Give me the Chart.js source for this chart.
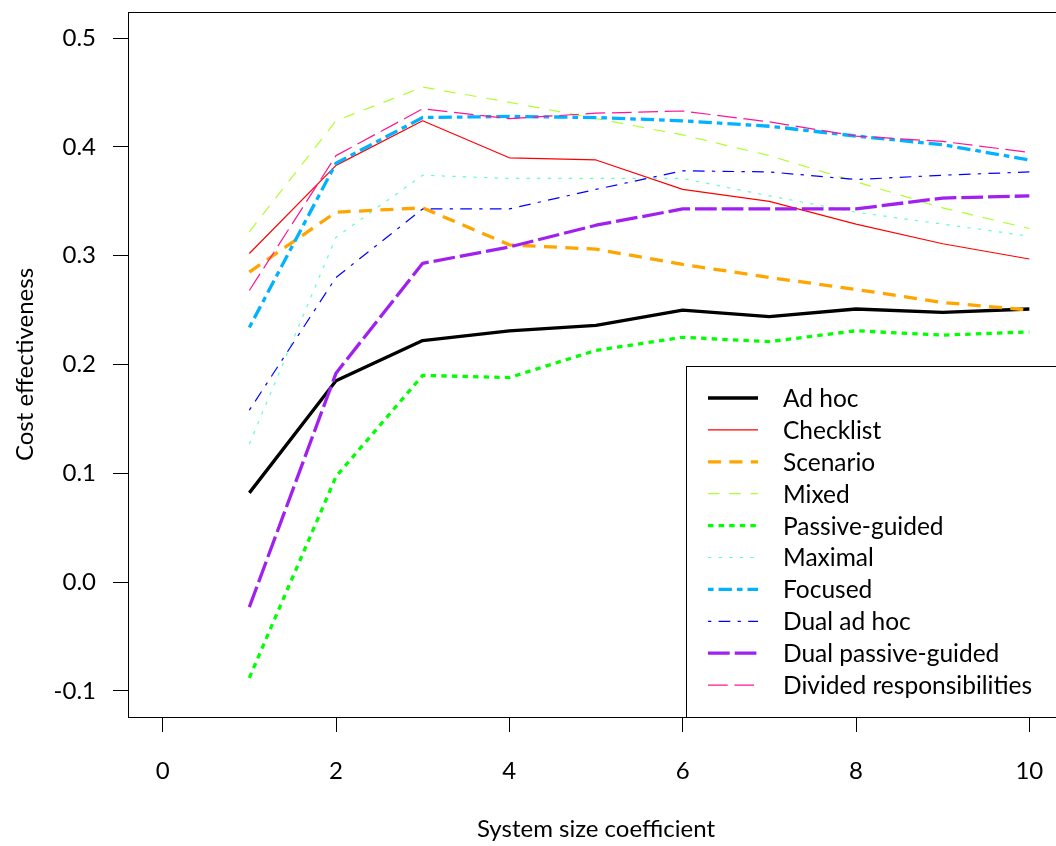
<!DOCTYPE html>
<html>
<head>
<meta charset="utf-8">
<script src="https://cdn.jsdelivr.net/npm/chart.js@4/dist/chart.umd.min.js"></script>
<style>
  html, body { margin: 0; padding: 0; background: #fff; overflow: hidden; }
  #wrap { width: 1056px; height: 846px; overflow: hidden; }
</style>
</head>
<body>
<div id="wrap"><canvas id="chart" width="1080" height="846"></canvas></div>
<script>
// x values (system size coefficient)
const sizes = [1, 2, 3, 4, 5, 6, 7, 8, 9, 10];

// cost effectiveness per strategy
const adHoc        = [0.082, 0.185, 0.222, 0.231, 0.236, 0.250, 0.244, 0.251, 0.248, 0.251];
const checklist    = [0.302, 0.383, 0.424, 0.390, 0.388, 0.361, 0.350, 0.329, 0.311, 0.297];
const scenario     = [0.285, 0.340, 0.344, 0.310, 0.306, 0.292, 0.280, 0.269, 0.257, 0.250];
const mixed        = [0.322, 0.424, 0.455, 0.441, 0.426, 0.411, 0.392, 0.368, 0.344, 0.325];
const passive      = [-0.088, 0.097, 0.190, 0.188, 0.213, 0.225, 0.221, 0.231, 0.227, 0.230];
const maximal      = [0.127, 0.317, 0.374, 0.371, 0.371, 0.371, 0.355, 0.340, 0.329, 0.318];
const focused      = [0.234, 0.385, 0.427, 0.428, 0.427, 0.424, 0.419, 0.410, 0.402, 0.388];
const dualAdHoc    = [0.158, 0.280, 0.343, 0.343, 0.361, 0.378, 0.377, 0.370, 0.374, 0.377];
const dualPassive  = [-0.023, 0.192, 0.293, 0.308, 0.328, 0.343, 0.343, 0.343, 0.353, 0.355];
const divided      = [0.268, 0.392, 0.435, 0.426, 0.431, 0.433, 0.423, 0.410, 0.405, 0.395];

const labels = ['Ad hoc', 'Checklist', 'Scenario', 'Mixed', 'Passive-guided', 'Maximal',
  'Focused', 'Dual ad hoc', 'Dual passive-guided', 'Divided responsibilities'];

const xTicks = [0, 2, 4, 6, 8, 10];
const yTicks = [-0.1, 0.0, 0.1, 0.2, 0.3, 0.4, 0.5];

const FONT = 'Lato';
const THICK = 3.3, THIN = 1.2;

// line styles, one per strategy (colour, width, dash)
const styles = [
  { color: '#000000', width: THICK, dash: [] },
  { color: '#ff0000', width: THIN,  dash: [] },
  { color: '#ffa500', width: THICK, dash: [13, 8.4] },
  { color: '#adff2f', width: THIN,  dash: [11.5, 9.8] },
  { color: '#00ff00', width: THICK, dash: [5.4, 5.2] },
  { color: '#5fffc8', width: THIN,  dash: [3.3, 7.3] },
  { color: '#00b2ff', width: THICK, dash: [5.6, 5, 13.3, 5] },
  { color: '#0000ff', width: THIN,  dash: [3.3, 7.3, 11.7, 7.3] },
  { color: '#a020f0', width: THICK, dash: [21.7, 5] },
  { color: '#ff1493', width: THIN,  dash: [19.7, 6.7] }
];

const series = [adHoc, checklist, scenario, mixed, passive, maximal, focused, dualAdHoc, dualPassive, divided];

const datasets = series.map((vals, i) => ({
  label: labels[i],
  data: vals.map((v, j) => ({ x: sizes[j], y: v })),
  borderColor: styles[i].color,
  borderWidth: styles[i].width,
  borderDash: styles[i].dash,
  borderCapStyle: 'butt',
  borderJoinStyle: 'round',
  pointRadius: 0,
  fill: false,
  tension: 0,
  order: series.length - i
}));

// plot frame and the boxed legend in the lower right corner
const frameAndLegend = {
  id: 'frameAndLegend',
  afterDraw(chart) {
    const { ctx, chartArea: a } = chart;
    ctx.save();
    ctx.strokeStyle = '#000';
    ctx.lineWidth = 1;
    ctx.strokeRect(a.left + 0.5, a.top + 0.5, a.right - a.left, a.bottom - a.top);

    const bx = a.right - 378, by = a.bottom - 351;
    ctx.fillStyle = '#fff';
    ctx.fillRect(bx, by, a.right - bx, a.bottom - by);
    ctx.strokeRect(bx + 0.5, by + 0.5, a.right - bx, a.bottom - by);

    ctx.font = '24.5px ' + FONT;
    ctx.textBaseline = 'middle';
    ctx.textAlign = 'left';
    chart.data.datasets.forEach((ds, i) => {
      const y = by + 32 + i * 31.9;
      ctx.beginPath();
      ctx.strokeStyle = ds.borderColor;
      ctx.lineWidth = ds.borderWidth;
      ctx.setLineDash(ds.borderDash);
      ctx.lineCap = 'butt';
      ctx.moveTo(bx + 22, y);
      ctx.lineTo(bx + 72, y);
      ctx.stroke();
      ctx.setLineDash([]);
      ctx.fillStyle = '#000';
      ctx.fillText(ds.label, bx + 97, y + 1);
    });
    ctx.restore();
  }
};

new Chart(document.getElementById('chart'), {
  type: 'line',
  data: { datasets },
  options: {
    responsive: false,
    animation: false,
    layout: { padding: { top: 12, right: 16, left: 0, bottom: 0 } },
    plugins: { legend: { display: false }, tooltip: { enabled: false } },
    scales: {
      x: {
        type: 'linear',
        min: -0.4,
        max: 10.4,
        afterBuildTicks: s => { s.ticks = xTicks.map(v => ({ value: v })); },
        afterFit: s => { s.height = 129; s.paddingLeft = 0; s.paddingRight = 0; },
        grid: { drawOnChartArea: false, tickLength: 15, color: '#000', tickWidth: 1 },
        border: { display: true, color: '#000' },
        ticks: { color: '#000', font: { family: FONT, size: 24 }, padding: 25, maxRotation: 0,
          callback: v => String(v) },
        title: { display: true, text: 'System size coefficient', color: '#000',
          font: { family: FONT, size: 24 }, padding: { top: 0, bottom: 2 } }
      },
      y: {
        min: -0.124,
        max: 0.524,
        afterBuildTicks: s => { s.ticks = yTicks.map(v => ({ value: v })); },
        afterFit: s => { s.width = 128; s.paddingTop = 0; s.paddingBottom = 0; },
        grid: { drawOnChartArea: false, tickLength: 15, color: '#000', tickWidth: 1 },
        border: { display: true, color: '#000' },
        ticks: { color: '#000', font: { family: FONT, size: 24 }, padding: 17,
          callback: v => v.toFixed(1) },
        title: { display: true, text: 'Cost effectiveness', color: '#000',
          font: { family: FONT, size: 24 }, padding: { top: 11, bottom: 0 } }
      }
    }
  },
  plugins: [frameAndLegend]
});
</script>
</body>
</html>
